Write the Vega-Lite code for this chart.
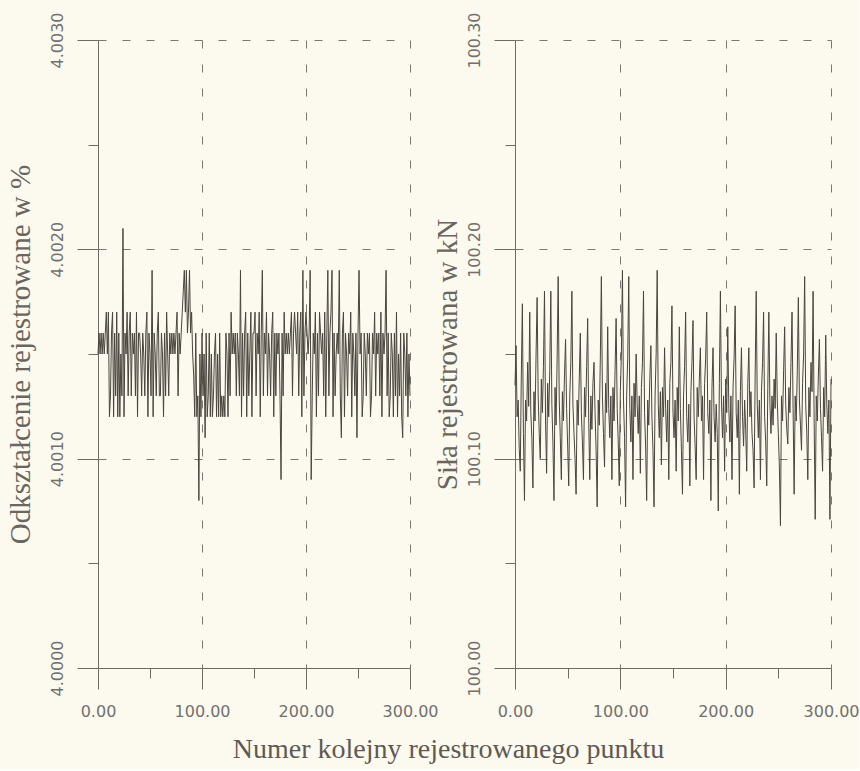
{
  "$schema": "https://vega.github.io/schema/vega-lite/v6.json",
  "background": "#fcfaee",
  "padding": {"left": 6, "top": 12, "right": 0, "bottom": 5},
  "autosize": {"type": "pad"},
  "data": {"values": [
{"n":0,"e":4.0015,"f":100.135},{"n":1,"e":4.0016,"f":100.154},{"n":2,"e":4.0015,"f":100.120},{"n":3,"e":4.0016,"f":100.128},{"n":4,"e":4.0015,"f":100.105},{"n":5,"e":4.0016,"f":100.094},{"n":6,"e":4.0015,"f":100.140},{"n":7,"e":4.0016,"f":100.174},{"n":8,"e":4.0017,"f":100.112},{"n":9,"e":4.0015,"f":100.080},
{"n":10,"e":4.0017,"f":100.128},{"n":11,"e":4.0012,"f":100.118},{"n":12,"e":4.0013,"f":100.146},{"n":13,"e":4.0016,"f":100.125},{"n":14,"e":4.0017,"f":100.170},{"n":15,"e":4.0012,"f":100.122},{"n":16,"e":4.0016,"f":100.110},{"n":17,"e":4.0013,"f":100.086},{"n":18,"e":4.0017,"f":100.132},{"n":19,"e":4.0012,"f":100.118},
{"n":20,"e":4.0016,"f":100.150},{"n":21,"e":4.0012,"f":100.177},{"n":22,"e":4.0015,"f":100.130},{"n":23,"e":4.0013,"f":100.112},{"n":24,"e":4.0021,"f":100.100},{"n":25,"e":4.0012,"f":100.138},{"n":26,"e":4.0016,"f":100.122},{"n":27,"e":4.0015,"f":100.144},{"n":28,"e":4.0017,"f":100.180},{"n":29,"e":4.0013,"f":100.118},
{"n":30,"e":4.0016,"f":100.093},{"n":31,"e":4.0017,"f":100.136},{"n":32,"e":4.0013,"f":100.120},{"n":33,"e":4.0016,"f":100.142},{"n":34,"e":4.0015,"f":100.180},{"n":35,"e":4.0016,"f":100.126},{"n":36,"e":4.0013,"f":100.108},{"n":37,"e":4.0017,"f":100.080},{"n":38,"e":4.0012,"f":100.134},{"n":39,"e":4.0016,"f":100.116},
{"n":40,"e":4.0016,"f":100.148},{"n":41,"e":4.0015,"f":100.187},{"n":42,"e":4.0013,"f":100.128},{"n":43,"e":4.0016,"f":100.110},{"n":44,"e":4.0015,"f":100.090},{"n":45,"e":4.0013,"f":100.132},{"n":46,"e":4.0016,"f":100.118},{"n":47,"e":4.0017,"f":100.140},{"n":48,"e":4.0012,"f":100.157},{"n":49,"e":4.0016,"f":100.124},
{"n":50,"e":4.0015,"f":100.106},{"n":51,"e":4.0013,"f":100.087},{"n":52,"e":4.0019,"f":100.130},{"n":53,"e":4.0012,"f":100.146},{"n":54,"e":4.0016,"f":100.180},{"n":55,"e":4.0015,"f":100.126},{"n":56,"e":4.0013,"f":100.112},{"n":57,"e":4.0016,"f":100.100},{"n":58,"e":4.0017,"f":100.083},{"n":59,"e":4.0013,"f":100.128},
{"n":60,"e":4.0013,"f":100.116},{"n":61,"e":4.0016,"f":100.138},{"n":62,"e":4.0015,"f":100.160},{"n":63,"e":4.0012,"f":100.122},{"n":64,"e":4.0016,"f":100.108},{"n":65,"e":4.0013,"f":100.090},{"n":66,"e":4.0017,"f":100.134},{"n":67,"e":4.0015,"f":100.120},{"n":68,"e":4.0013,"f":100.144},{"n":69,"e":4.0016,"f":100.167},
{"n":70,"e":4.0015,"f":100.118},{"n":71,"e":4.0016,"f":100.090},{"n":72,"e":4.0015,"f":100.130},{"n":73,"e":4.0016,"f":100.114},{"n":74,"e":4.0015,"f":100.136},{"n":75,"e":4.0016,"f":100.146},{"n":76,"e":4.0017,"f":100.122},{"n":77,"e":4.0013,"f":100.104},{"n":78,"e":4.0016,"f":100.077},{"n":79,"e":4.0015,"f":100.128},
{"n":80,"e":4.0016,"f":100.116},{"n":81,"e":4.0017,"f":100.148},{"n":82,"e":4.0018,"f":100.187},{"n":83,"e":4.0019,"f":100.130},{"n":84,"e":4.0017,"f":100.112},{"n":85,"e":4.0019,"f":100.096},{"n":86,"e":4.0016,"f":100.136},{"n":87,"e":4.0017,"f":100.122},{"n":88,"e":4.0019,"f":100.163},{"n":89,"e":4.0016,"f":100.124},
{"n":90,"e":4.0017,"f":100.110},{"n":91,"e":4.0015,"f":100.130},{"n":92,"e":4.0014,"f":100.090},{"n":93,"e":4.0012,"f":100.134},{"n":94,"e":4.0016,"f":100.118},{"n":95,"e":4.0012,"f":100.142},{"n":96,"e":4.0013,"f":100.167},{"n":97,"e":4.0008,"f":100.124},{"n":98,"e":4.0015,"f":100.108},{"n":99,"e":4.0012,"f":100.087},
{"n":100,"e":4.0016,"f":100.132},{"n":101,"e":4.0013,"f":100.150},{"n":102,"e":4.0015,"f":100.190},{"n":103,"e":4.0011,"f":100.128},{"n":104,"e":4.0016,"f":100.110},{"n":105,"e":4.0012,"f":100.077},{"n":106,"e":4.0013,"f":100.130},{"n":107,"e":4.0016,"f":100.148},{"n":108,"e":4.0012,"f":100.187},{"n":109,"e":4.0015,"f":100.124},
{"n":110,"e":4.0012,"f":100.108},{"n":111,"e":4.0013,"f":100.130},{"n":112,"e":4.0015,"f":100.090},{"n":113,"e":4.0016,"f":100.136},{"n":114,"e":4.0012,"f":100.120},{"n":115,"e":4.0015,"f":100.150},{"n":116,"e":4.0012,"f":100.126},{"n":117,"e":4.0016,"f":100.112},{"n":118,"e":4.0012,"f":100.130},{"n":119,"e":4.0013,"f":100.093},
{"n":120,"e":4.0012,"f":100.134},{"n":121,"e":4.0013,"f":100.146},{"n":122,"e":4.0012,"f":100.180},{"n":123,"e":4.0016,"f":100.122},{"n":124,"e":4.0015,"f":100.106},{"n":125,"e":4.0012,"f":100.080},{"n":126,"e":4.0016,"f":100.128},{"n":127,"e":4.0013,"f":100.116},{"n":128,"e":4.0017,"f":100.138},{"n":129,"e":4.0015,"f":100.154},
{"n":130,"e":4.0016,"f":100.120},{"n":131,"e":4.0015,"f":100.104},{"n":132,"e":4.0016,"f":100.077},{"n":133,"e":4.0013,"f":100.130},{"n":134,"e":4.0016,"f":100.150},{"n":135,"e":4.0015,"f":100.190},{"n":136,"e":4.0013,"f":100.126},{"n":137,"e":4.0019,"f":100.110},{"n":138,"e":4.0012,"f":100.132},{"n":139,"e":4.0016,"f":100.097},
{"n":140,"e":4.0013,"f":100.134},{"n":141,"e":4.0016,"f":100.120},{"n":142,"e":4.0017,"f":100.153},{"n":143,"e":4.0012,"f":100.124},{"n":144,"e":4.0016,"f":100.108},{"n":145,"e":4.0013,"f":100.128},{"n":146,"e":4.0015,"f":100.090},{"n":147,"e":4.0017,"f":100.136},{"n":148,"e":4.0012,"f":100.146},{"n":149,"e":4.0016,"f":100.173},
{"n":150,"e":4.0016,"f":100.122},{"n":151,"e":4.0017,"f":100.110},{"n":152,"e":4.0013,"f":100.128},{"n":153,"e":4.0016,"f":100.094},{"n":154,"e":4.0015,"f":100.134},{"n":155,"e":4.0017,"f":100.118},{"n":156,"e":4.0012,"f":100.163},{"n":157,"e":4.0016,"f":100.124},{"n":158,"e":4.0019,"f":100.104},{"n":159,"e":4.0013,"f":100.083},
{"n":160,"e":4.0016,"f":100.130},{"n":161,"e":4.0015,"f":100.144},{"n":162,"e":4.0017,"f":100.170},{"n":163,"e":4.0013,"f":100.120},{"n":164,"e":4.0016,"f":100.108},{"n":165,"e":4.0015,"f":100.126},{"n":166,"e":4.0013,"f":100.087},{"n":167,"e":4.0016,"f":100.132},{"n":168,"e":4.0017,"f":100.146},{"n":169,"e":4.0012,"f":100.166},
{"n":170,"e":4.0016,"f":100.120},{"n":171,"e":4.0013,"f":100.106},{"n":172,"e":4.0016,"f":100.090},{"n":173,"e":4.0015,"f":100.134},{"n":174,"e":4.0016,"f":100.120},{"n":175,"e":4.0013,"f":100.138},{"n":176,"e":4.0009,"f":100.153},{"n":177,"e":4.0016,"f":100.118},{"n":178,"e":4.0013,"f":100.130},{"n":179,"e":4.0017,"f":100.090},
{"n":180,"e":4.0015,"f":100.136},{"n":181,"e":4.0016,"f":100.148},{"n":182,"e":4.0015,"f":100.170},{"n":183,"e":4.0016,"f":100.122},{"n":184,"e":4.0015,"f":100.112},{"n":185,"e":4.0016,"f":100.128},{"n":186,"e":4.0017,"f":100.080},{"n":187,"e":4.0013,"f":100.134},{"n":188,"e":4.0016,"f":100.153},{"n":189,"e":4.0017,"f":100.120},
{"n":190,"e":4.0016,"f":100.108},{"n":191,"e":4.0015,"f":100.126},{"n":192,"e":4.0017,"f":100.112},{"n":193,"e":4.0013,"f":100.075},{"n":194,"e":4.0016,"f":100.136},{"n":195,"e":4.0017,"f":100.180},{"n":196,"e":4.0012,"f":100.128},{"n":197,"e":4.0019,"f":100.110},{"n":198,"e":4.0013,"f":100.130},{"n":199,"e":4.0016,"f":100.094},
{"n":200,"e":4.0017,"f":100.138},{"n":201,"e":4.0016,"f":100.122},{"n":202,"e":4.0015,"f":100.163},{"n":203,"e":4.0016,"f":100.124},{"n":204,"e":4.0019,"f":100.108},{"n":205,"e":4.0009,"f":100.130},{"n":206,"e":4.0013,"f":100.090},{"n":207,"e":4.0016,"f":100.134},{"n":208,"e":4.0015,"f":100.148},{"n":209,"e":4.0017,"f":100.173},
{"n":210,"e":4.0012,"f":100.122},{"n":211,"e":4.0016,"f":100.110},{"n":212,"e":4.0013,"f":100.128},{"n":213,"e":4.0017,"f":100.083},{"n":214,"e":4.0016,"f":100.132},{"n":215,"e":4.0015,"f":100.153},{"n":216,"e":4.0016,"f":100.120},{"n":217,"e":4.0013,"f":100.106},{"n":218,"e":4.0017,"f":100.128},{"n":219,"e":4.0012,"f":100.114},
{"n":220,"e":4.0016,"f":100.094},{"n":221,"e":4.0019,"f":100.136},{"n":222,"e":4.0013,"f":100.153},{"n":223,"e":4.0016,"f":100.120},{"n":224,"e":4.0017,"f":100.132},{"n":225,"e":4.0019,"f":100.112},{"n":226,"e":4.0012,"f":100.104},{"n":227,"e":4.0016,"f":100.086},{"n":228,"e":4.0013,"f":100.140},{"n":229,"e":4.0015,"f":100.180},
{"n":230,"e":4.0016,"f":100.126},{"n":231,"e":4.0015,"f":100.110},{"n":232,"e":4.0019,"f":100.128},{"n":233,"e":4.0013,"f":100.090},{"n":234,"e":4.0011,"f":100.132},{"n":235,"e":4.0016,"f":100.146},{"n":236,"e":4.0017,"f":100.170},{"n":237,"e":4.0012,"f":100.120},{"n":238,"e":4.0016,"f":100.108},{"n":239,"e":4.0015,"f":100.087},
{"n":240,"e":4.0013,"f":100.134},{"n":241,"e":4.0016,"f":100.170},{"n":242,"e":4.0015,"f":100.126},{"n":243,"e":4.0017,"f":100.112},{"n":244,"e":4.0012,"f":100.130},{"n":245,"e":4.0016,"f":100.116},{"n":246,"e":4.0015,"f":100.138},{"n":247,"e":4.0013,"f":100.124},{"n":248,"e":4.0016,"f":100.160},{"n":249,"e":4.0011,"f":100.128},
{"n":250,"e":4.0016,"f":100.112},{"n":251,"e":4.0019,"f":100.096},{"n":252,"e":4.0015,"f":100.068},{"n":253,"e":4.0016,"f":100.130},{"n":254,"e":4.0012,"f":100.118},{"n":255,"e":4.0013,"f":100.142},{"n":256,"e":4.0016,"f":100.163},{"n":257,"e":4.0015,"f":100.126},{"n":258,"e":4.0013,"f":100.114},{"n":259,"e":4.0016,"f":100.107},
{"n":260,"e":4.0015,"f":100.134},{"n":261,"e":4.0016,"f":100.122},{"n":262,"e":4.0012,"f":100.146},{"n":263,"e":4.0013,"f":100.170},{"n":264,"e":4.0016,"f":100.124},{"n":265,"e":4.0015,"f":100.083},{"n":266,"e":4.0017,"f":100.130},{"n":267,"e":4.0013,"f":100.118},{"n":268,"e":4.0016,"f":100.142},{"n":269,"e":4.0015,"f":100.177},
{"n":270,"e":4.0016,"f":100.128},{"n":271,"e":4.0013,"f":100.116},{"n":272,"e":4.0017,"f":100.104},{"n":273,"e":4.0012,"f":100.136},{"n":274,"e":4.0016,"f":100.150},{"n":275,"e":4.0015,"f":100.187},{"n":276,"e":4.0016,"f":100.126},{"n":277,"e":4.0019,"f":100.112},{"n":278,"e":4.0013,"f":100.090},{"n":279,"e":4.0016,"f":100.134},
{"n":280,"e":4.0012,"f":100.120},{"n":281,"e":4.0013,"f":100.146},{"n":282,"e":4.0016,"f":100.132},{"n":283,"e":4.0015,"f":100.180},{"n":284,"e":4.0012,"f":100.118},{"n":285,"e":4.0016,"f":100.071},{"n":286,"e":4.0013,"f":100.130},{"n":287,"e":4.0017,"f":100.118},{"n":288,"e":4.0012,"f":100.140},{"n":289,"e":4.0015,"f":100.157},
{"n":290,"e":4.0013,"f":100.124},{"n":291,"e":4.0016,"f":100.110},{"n":292,"e":4.0012,"f":100.094},{"n":293,"e":4.0011,"f":100.134},{"n":294,"e":4.0016,"f":100.120},{"n":295,"e":4.0015,"f":100.159},{"n":296,"e":4.0013,"f":100.126},{"n":297,"e":4.0016,"f":100.112},{"n":298,"e":4.0012,"f":100.128},{"n":299,"e":4.0015,"f":100.071},
{"n":300,"e":4.0013,"f":100.138}
  ]},
  "bounds": "flush",
  "spacing": 105,
  "title": {"text": "Numer kolejny rejestrowanego punktu", "orient": "bottom", "anchor": "middle", "font": "Liberation Serif", "fontSize": 28, "fontWeight": "normal", "color": "#5e5954", "offset": 17, "dx": 16},
  "hconcat": [
    {
      "width": 312,
      "height": 628,
      "mark": {"type": "line", "color": "#4a443e", "strokeWidth": 1},
      "encoding": {
        "x": {"field": "n", "type": "quantitative", "scale": {"domain": [0, 300], "nice": false},
          "axis": {"title": null, "values": [0, 50, 100, 150, 200, 250, 300],
            "labelExpr": "datum.value % 100 == 0 ? format(datum.value, '.2f') : ''",
            "labelFlush": false, "labelOverlap": false, "labelPadding": 14,
            "tickSize": {"condition": {"test": "datum.value % 100 == 0", "value": 21}, "value": 10},
            "grid": true,
            "gridOpacity": {"condition": {"test": "datum.value % 100 == 0 && datum.value > 0", "value": 1}, "value": 0}}},
        "y": {"field": "e", "type": "quantitative", "scale": {"domain": [4.0, 4.003], "nice": false, "zero": false},
          "axis": {"title": "Odkształcenie rejestrowane w %", "values": [4.0, 4.0005, 4.001, 4.0015, 4.002, 4.0025, 4.003],
            "labelExpr": "round(datum.value * 10000) % 10 == 0 ? format(datum.value, '.4f') : ''",
            "labelAngle": -90, "labelAlign": "center", "labelBaseline": "bottom", "labelOverlap": false, "labelFlush": false, "labelPadding": 12,
            "tickSize": {"condition": {"test": "round(datum.value * 10000) % 10 == 0", "value": 21}, "value": 10},
            "grid": true,
            "gridOpacity": {"condition": {"test": "round(datum.value * 10000) % 10 == 0 && datum.value > 4.00001", "value": 1}, "value": 0},
            "titlePadding": 14}}
      }
    },
    {
      "width": 316,
      "height": 628,
      "mark": {"type": "line", "color": "#4a443e", "strokeWidth": 1},
      "encoding": {
        "x": {"field": "n", "type": "quantitative", "scale": {"domain": [0, 300], "nice": false},
          "axis": {"title": null, "values": [0, 50, 100, 150, 200, 250, 300],
            "labelExpr": "datum.value % 100 == 0 ? format(datum.value, '.2f') : ''",
            "labelFlush": false, "labelOverlap": false, "labelPadding": 14,
            "tickSize": {"condition": {"test": "datum.value % 100 == 0", "value": 21}, "value": 10},
            "grid": true,
            "gridOpacity": {"condition": {"test": "datum.value % 100 == 0 && datum.value > 0", "value": 1}, "value": 0}}},
        "y": {"field": "f", "type": "quantitative", "scale": {"domain": [100.0, 100.3], "nice": false, "zero": false},
          "axis": {"title": "Siła rejestrowana w kN", "values": [100.0, 100.05, 100.1, 100.15, 100.2, 100.25, 100.3],
            "labelExpr": "round(datum.value * 100) % 10 == 0 ? format(datum.value, '.2f') : ''",
            "labelAngle": -90, "labelAlign": "center", "labelBaseline": "bottom", "labelOverlap": false, "labelFlush": false, "labelPadding": 12,
            "tickSize": {"condition": {"test": "round(datum.value * 100) % 10 == 0", "value": 21}, "value": 10},
            "grid": true,
            "gridOpacity": {"condition": {"test": "round(datum.value * 100) % 10 == 0 && datum.value > 100.001", "value": 1}, "value": 0},
            "titlePadding": 4}}
      }
    }
  ],
  "config": {
    "view": {"stroke": null},
    "axis": {
      "domainColor": "#6e6a64", "tickColor": "#6e6a64", "domainWidth": 1, "tickWidth": 1,
      "labelColor": "#707070", "labelFont": "DejaVu Sans", "labelFontSize": 16,
      "titleFont": "Liberation Serif", "titleFontSize": 29, "titleFontWeight": "normal", "titleColor": "#6a655f",
      "gridColor": "#7a7670", "gridDash": [8, 16], "gridWidth": 1
    }
  }
}
